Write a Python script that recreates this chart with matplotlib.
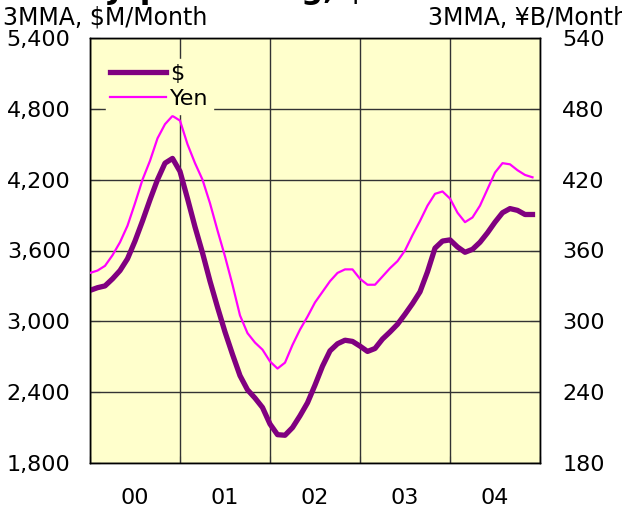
import matplotlib
matplotlib.use('Agg')
import matplotlib.pyplot as plt
import numpy as np

# monthly 3-month moving averages, Jan 2000 .. Dec 2004
dollar = [3262, 3285, 3300, 3360, 3430, 3530, 3680, 3850, 4030, 4200, 4340, 4380,
          4270, 4040, 3800, 3580, 3340, 3120, 2910, 2720, 2540, 2420, 2350, 2270,
          2130, 2040, 2035, 2100, 2200, 2310, 2460, 2620, 2750, 2810, 2840, 2830,
          2790, 2745, 2770, 2850, 2910, 2975, 3060, 3150, 3250, 3420, 3620, 3680,
          3690, 3630, 3585, 3610, 3670, 3750, 3840, 3920, 3955, 3940, 3905, 3905]
yen = [341, 343, 347, 356, 367, 381, 400, 420, 436, 455, 467, 474,
       470, 450, 434, 420, 400, 377, 355, 331, 305, 290, 282, 276,
       266, 260, 265, 280, 293, 304, 316, 325, 334, 341, 344, 344,
       336, 331, 331, 338, 345, 351, 360, 373, 385, 398, 408, 410,
       404, 392, 384, 388, 398, 412, 426, 434, 433, 428, 424, 422]
years = ['00', '01', '02', '03', '04']
left_ticks = [1800, 2400, 3000, 3600, 4200, 4800, 5400]
right_ticks = [180, 240, 300, 360, 420, 480, 540]

months = np.arange(len(dollar))
bg = '#FFFFCC'
grid_c = '#333333'

fig = plt.figure(figsize=(6.22, 5.17), dpi=100)
ax = fig.add_axes([90 / 622, 1 - 463 / 517, 450 / 622, 425 / 517])
ax.set_facecolor(bg)
ax2 = ax.twinx()

l1, = ax.plot(months, dollar, color='#800080', lw=3.8, label='$', zorder=3)
l2, = ax2.plot(months, yen, color='#FF00FF', lw=1.6, label='Yen', zorder=3)

ax.set_xlim(0, 60)
ax.set_ylim(1800, 5400)
ax2.set_ylim(180, 540)

ax.set_yticks(left_ticks)
ax.set_yticklabels([f'{v:,}' for v in left_ticks])
ax2.set_yticks(right_ticks)
ax2.set_yticklabels([str(v) for v in right_ticks])

ax.set_xticks([0, 12, 24, 36, 48, 60])
ax.set_xticklabels([])
ax.set_xticks([6, 18, 30, 42, 54], minor=True)
ax.set_xticklabels(years, minor=True)
ax.tick_params(axis='x', which='minor', length=0, pad=18, labelsize=16)
ax.tick_params(axis='x', which='major', direction='in', length=5, color=grid_c)
ax.tick_params(axis='y', direction='in', length=7, pad=14, labelsize=16, color=grid_c)
ax2.tick_params(axis='y', direction='in', length=7, pad=16, labelsize=16, color=grid_c)

ax.grid(True, which='major', color=grid_c, lw=1)
ax.set_axisbelow(True)
for s in list(ax.spines.values()) + list(ax2.spines.values()):
    s.set_color('black')
    s.set_linewidth(1)

leg = ax2.legend([l1, l2], ['$', 'Yen'], loc='upper left', bbox_to_anchor=(0.035, 0.95),
                 frameon=True, fontsize=16, handlelength=2.5, handletextpad=0.2,
                 labelspacing=0.25, borderpad=0.2, borderaxespad=0)
leg.get_frame().set_facecolor(bg)
leg.get_frame().set_edgecolor(bg)
leg.get_frame().set_alpha(1)

fig.text(3 / 622, 1 - 25 / 517, '3MMA, $M/Month', fontsize=17, ha='left', va='baseline')
fig.text(428 / 622, 1 - 25 / 517, '3MMA, ¥B/Month', fontsize=17, ha='left', va='baseline')
fig.text(109 / 622, 1 + 1 / 517, 'Japan Billing, $ & ¥', fontsize=22,
         fontweight='bold', ha='left', va='baseline')

fig.savefig('out.png', dpi=100, facecolor='white')
